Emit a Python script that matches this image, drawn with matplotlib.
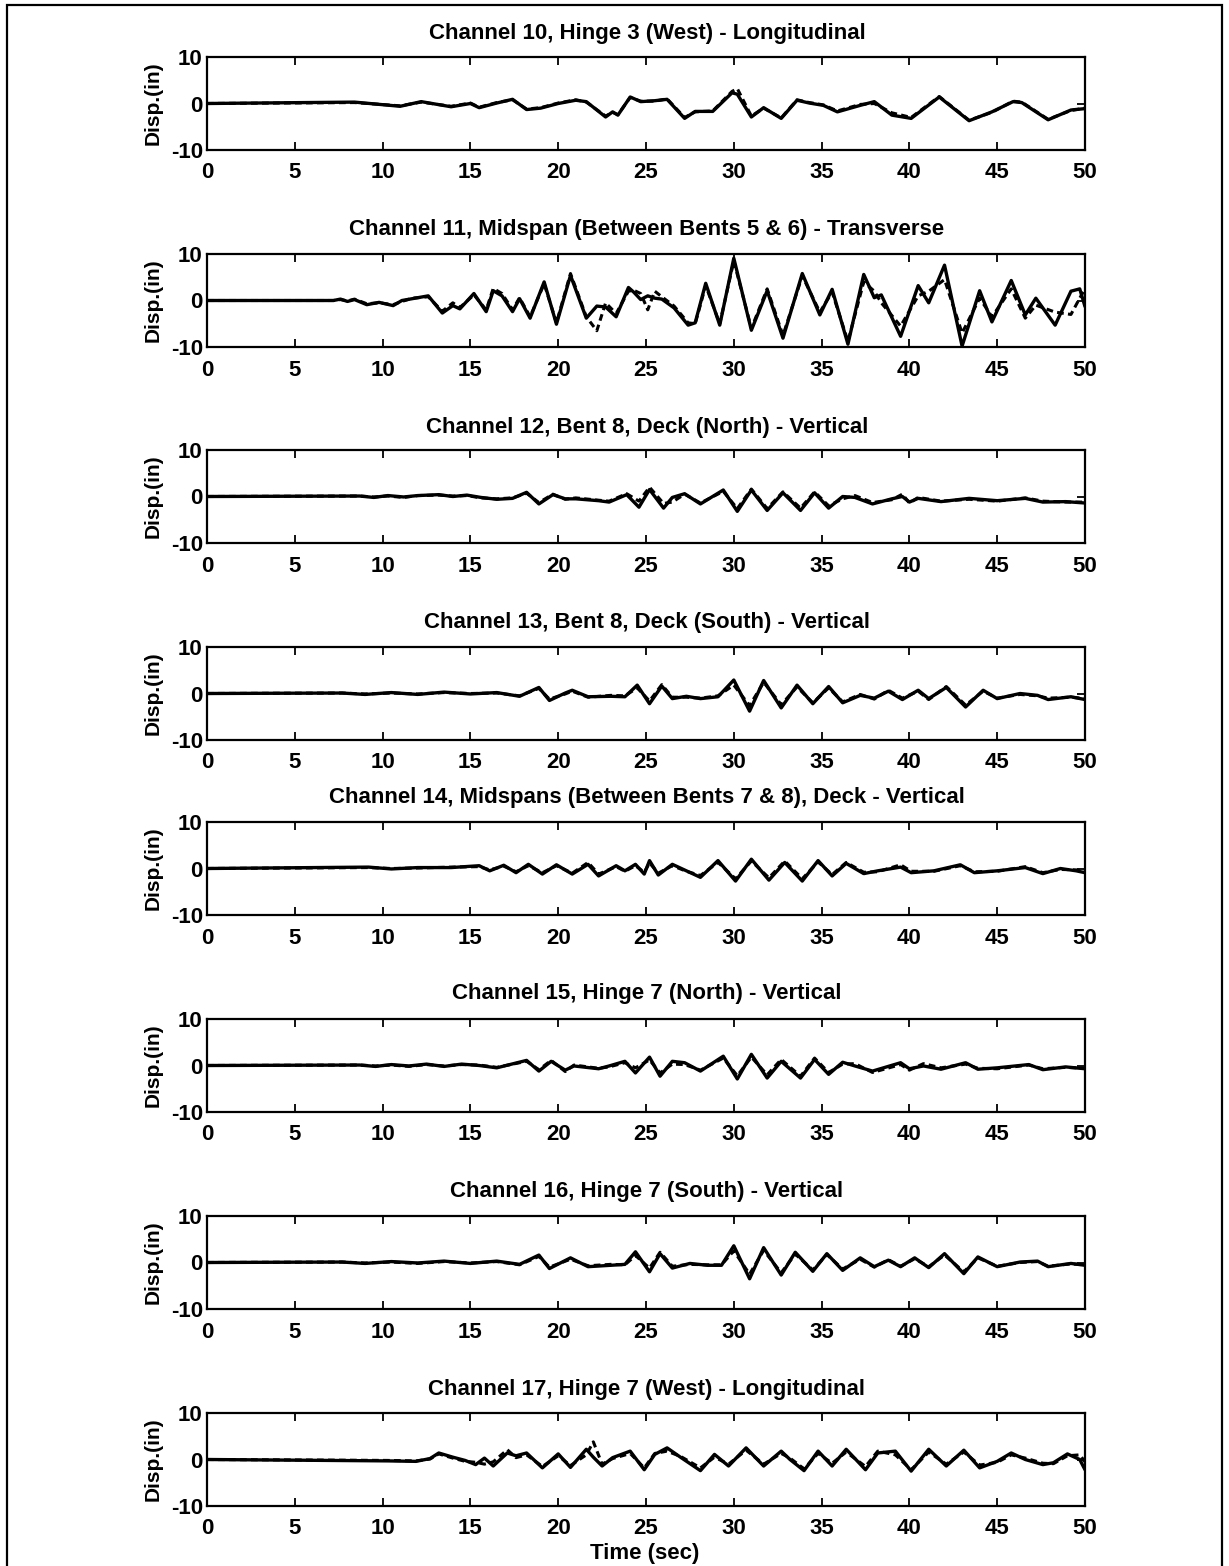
import matplotlib
matplotlib.use("Agg")
import matplotlib.pyplot as plt
from matplotlib.patches import Rectangle

plt.rcParams['font.family'] = ['Liberation Sans', 'DejaVu Sans']
plt.rcParams['font.weight'] = 'bold'

# ---------------------------------------------------------------- data
titles = [
    "Channel 10, Hinge 3 (West) - Longitudinal",
    "Channel 11, Midspan (Between Bents 5 & 6) - Transverse",
    "Channel 12, Bent 8, Deck (North) - Vertical",
    "Channel 13, Bent 8, Deck (South) - Vertical",
    "Channel 14, Midspans (Between Bents 7 & 8), Deck - Vertical",
    "Channel 15, Hinge 7 (North) - Vertical",
    "Channel 16, Hinge 7 (South) - Vertical",
    "Channel 17, Hinge 7 (West) - Longitudinal",
]
x_ticks = [0, 5, 10, 15, 20, 25, 30, 35, 40, 45, 50]
y_ticks = [-10, 0, 10]

# Channel 10
t_ch10 = [0, 8.4, 11, 12.2, 13.9, 15, 15.5, 16.5, 17.4, 18.2, 19, 20, 21, 21.6, 22.7, 23.1, 23.4,
          24.1, 24.7, 25.5, 26.2, 27.2, 27.8, 28.8, 29.9, 30.2, 31, 31.7, 32.7, 33.6, 34.3, 35.1,
          35.9, 37.2, 38, 39, 40.1, 41.7, 43.4, 44.7, 45.9, 46.4, 47.9, 49.2, 50]
rec_ch10 = [0, 0.3, -0.6, 0.4, -0.7, 0, -0.9, 0.1, 0.9, -1.3, -1.0, 0, 0.7, 0.4, -2.9, -1.8, -2.5,
            1.4, 0.4, 0.6, 0.9, -3.2, -1.7, -1.7, 2.3, 2.0, -2.9, -0.9, -3.2, 0.7, 0.1, -0.4,
            -1.8, -0.4, 0.4, -2.5, -3.2, 1.4, -3.7, -1.8, 0.4, 0.2, -3.5, -1.4, -1.1]
cmp_ch10 = [0, 0.2, -0.5, 0.3, -0.6, 0.1, -0.8, 0.2, 0.8, -1.2, -0.9, 0.1, 0.8, 0.3, -2.7, -1.9, -2.4,
            1.3, 0.5, 0.5, 1.0, -3.0, -1.8, -1.6, 2.6, 3.2, -2.7, -1.0, -3.1, 0.8, 0.2, -0.3,
            -1.6, -0.2, 0.0, -2.0, -3.0, 1.5, -3.6, -1.9, 0.5, 0.3, -3.4, -1.5, -1.0]

# Channel 11
t_ch11 = [0, 7.2, 7.6, 8.0, 8.4, 9.1, 9.8, 10.6, 11.1, 11.7, 12.6, 13.4, 14.0, 14.4, 15.2, 15.9,
          16.3, 16.8, 17.4, 17.8, 18.4, 19.2, 19.9, 20.7, 21.6, 22.2, 22.7, 23.3, 24.0, 24.3, 24.7,
          25.1, 25.5, 25.9, 26.6, 27.4, 27.8, 28.4, 29.2, 30.0, 31.0, 31.9, 32.8, 33.9, 34.9, 35.6,
          36.5, 37.4, 38.0, 38.4, 39.5, 40.5, 41.1, 42.0, 43.0, 44.0, 44.7, 45.8, 46.6, 47.2, 48.3,
          49.2, 49.7, 50]
rec_ch11 = [0, 0, 0.3, -0.2, 0.2, -0.9, -0.4, -1.1, 0, 0.4, 1.0, -2.7, -1.1, -1.8, 1.5, -2.4,
            2.1, 1.0, -2.4, 0.4, -3.8, 4.0, -5.1, 5.4, -3.8, -1.2, -1.4, -3.5, 2.8, 1.8, 0.2,
            1.0, 0.5, 0.3, -1.6, -5.3, -4.8, 3.7, -5.3, 9.1, -6.4, 2.1, -8.1, 5.8, -3.1, 2.4,
            -9.4, 5.6, 0.6, 1.2, -7.7, 3.2, -0.5, 7.6, -9.8, 2.1, -4.6, 4.3, -3.1, 0.5, -5.3,
            2.0, 2.5, -1.3]
cmp_ch11 = [0, 0, 0.2, -0.1, 0.3, -0.7, -0.5, -0.9, -0.2, 0.5, 0.8, -2.3, -0.5, -1.5, 1.2, -2.0,
            2.6, 1.5, -2.0, 0.6, -3.5, 3.6, -4.8, 5.8, -3.5, -6.5, -0.5, -2.8, 2.0, 2.2, 1.5,
            -2.0, 2.0, 0.8, -1.2, -4.8, -5.0, 3.2, -5.0, 8.5, -6.0, 2.5, -7.5, 5.3, -2.5, 1.8,
            -8.8, 4.0, 2.0, -0.5, -5.5, 1.0, 2.0, 4.5, -7.0, 0.5, -3.5, 2.5, -3.8, -1.0, -2.5,
            -3.0, 0.5, 2.5]

# Channel 12
t_ch12 = [0, 8.7, 9.5, 10.3, 11.2, 12.0, 13.2, 14.0, 14.8, 15.6, 16.5, 17.4, 18.2, 18.9, 19.7,
          20.4, 21.0, 22.3, 22.9, 23.9, 24.6, 25.2, 26.0, 26.5, 27.2, 28.1, 29.4, 30.2, 31.0,
          31.9, 32.8, 33.8, 34.6, 35.4, 36.2, 36.9, 37.9, 39.0, 39.6, 40.0, 40.5, 41.8, 43.4,
          45.0, 46.6, 47.6, 48.9, 50]
rec_ch12 = [0, 0.1, -0.2, 0.2, -0.1, 0.2, 0.4, 0, 0.3, -0.2, -0.6, -0.4, 0.9, -1.6, 0.4,
            -0.5, -0.5, -0.9, -1.2, 0.4, -2.3, 1.5, -2.5, -0.2, 0.6, -1.6, 1.4, -3.2, 1.4,
            -3.0, 0.8, -3.0, 0.8, -2.5, 0, -0.2, -1.6, -0.5, 0, -1.2, -0.4, -1.1, -0.4,
            -0.9, -0.4, -1.2, -1.1, -1.4]
cmp_ch12 = [0, 0.1, -0.1, 0.1, -0.2, 0.2, 0.3, 0.1, 0.2, -0.3, -0.5, -0.3, 0.7, -1.3, 0.5,
            -0.6, -0.3, -0.8, -1.0, 0.6, -1.0, 2.0, -1.5, -1.2, 0.5, -1.4, 1.1, -2.6, 1.6,
            -2.6, 1.0, -2.5, 1.0, -2.0, -0.5, 0.2, -1.3, -0.7, 0.5, -1.4, -0.2, -1.0, -0.6,
            -1.0, -0.3, -1.0, -1.2, -1.2]

# Channel 13
t_ch13 = [0, 7.7, 9.0, 10.5, 12.0, 13.5, 15.0, 16.5, 17.8, 18.9, 19.5, 20.4, 20.8, 21.7, 23.0,
          23.8, 24.5, 25.2, 25.9, 26.5, 27.3, 28.1, 29.1, 30.0, 30.9, 31.7, 32.7, 33.6, 34.5,
          35.4, 36.2, 37.2, 38.0, 38.8, 39.6, 40.5, 41.1, 42.1, 43.2, 44.2, 45.0, 46.3, 47.3,
          47.9, 49.2, 50]
rec_ch13 = [0, 0.1, -0.2, 0.2, -0.2, 0.3, -0.1, 0.2, -0.6, 1.3, -1.5, 0.1, 0.7, -0.7, -0.6,
            -0.7, 1.8, -2.2, 1.6, -1.1, -0.6, -1.1, -0.7, 2.9, -3.8, 2.8, -3.1, 1.8, -2.2,
            1.5, -2.0, -0.4, -1.0, 0.5, -1.3, 0.7, -1.1, 1.3, -2.9, 0.7, -1.1, 0, -0.4,
            -1.3, -0.7, -1.3]
cmp_ch13 = [0, 0.1, -0.1, 0.1, -0.1, 0.2, 0, 0.1, -0.5, 1.1, -1.2, -0.1, 0.5, -0.8, -0.4,
            -0.5, 1.2, -1.6, 1.9, -0.8, -0.8, -1.0, -0.5, 1.8, -2.6, 2.4, -2.4, 1.4, -2.0,
            1.2, -1.8, -0.2, -1.2, 0.7, -1.0, 0.5, -1.3, 1.5, -2.5, 0.5, -1.0, -0.2, -0.5,
            -1.0, -0.8, -1.1]

# Channel 14
t_ch14 = [0, 9.2, 10.5, 12.0, 13.9, 15.5, 16.1, 16.9, 17.6, 18.3, 19.1, 19.9, 20.8, 21.7, 22.3,
          23.3, 23.8, 24.4, 24.9, 25.2, 25.7, 26.5, 27.3, 28.1, 29.1, 30.1, 31.0, 32.0, 32.9,
          33.9, 34.8, 35.6, 36.4, 37.4, 38.2, 39.5, 40.1, 41.4, 42.9, 43.7, 45.0, 46.6, 47.6,
          48.6, 49.5, 50]
rec_ch14 = [0, 0.3, -0.1, 0.2, 0.2, 0.6, -0.5, 0.7, -0.9, 0.9, -1.2, 0.8, -1.2, 0.9, -1.6,
            0.6, -0.5, 0.9, -1.2, 1.7, -1.4, 0.9, -0.5, -1.9, 1.7, -2.7, 2.0, -2.5, 1.3,
            -2.7, 1.7, -1.6, 1.1, -1.1, -0.5, 0.3, -0.9, -0.5, 0.8, -0.9, -0.5, 0.2, -1.1,
            0, -0.5, -0.9]
cmp_ch14 = [0, 0.2, 0, 0.1, 0.3, 0.4, -0.3, 0.5, -0.7, 0.6, -0.9, 0.6, -1.0, 1.3, -1.2,
            0.4, -0.6, 0.6, -0.8, 1.2, -1.0, 0.6, -0.6, -1.5, 1.3, -2.2, 1.6, -2.0, 1.6,
            -2.2, 1.4, -1.3, 1.3, -0.8, -0.7, 0.8, -0.6, -0.6, 0.6, -0.7, -0.6, 0.4, -0.9,
            -0.2, -0.3, -0.6]

# Channel 15
t_ch15 = [0, 8.7, 9.6, 10.5, 11.5, 12.5, 13.5, 14.5, 15.5, 16.5, 18.2, 18.9, 19.6, 20.4, 20.9,
          22.3, 22.9, 23.8, 24.4, 25.2, 25.8, 26.5, 27.2, 28.1, 29.4, 30.2, 31.0, 31.9, 32.7,
          33.8, 34.6, 35.4, 36.2, 36.9, 37.9, 39.5, 40.0, 40.8, 41.8, 43.2, 43.9, 45.0, 46.8,
          47.6, 48.9, 50]
rec_ch15 = [0, 0.1, -0.2, 0.2, -0.1, 0.3, -0.2, 0.3, 0, -0.5, 1.1, -1.2, 0.9, -1.0, -0.1,
            -0.7, -0.1, 0.9, -1.6, 1.8, -2.3, 0.9, 0.6, -1.2, 2.0, -2.9, 2.4, -2.7, 0.9,
            -2.7, 1.3, -1.9, 0.7, -0.1, -1.2, 0.6, -0.7, -0.1, -0.8, 0.6, -0.8, -0.5, 0.2,
            -0.9, -0.3, -0.7]
cmp_ch15 = [0, 0.1, -0.1, 0.1, -0.2, 0.2, -0.1, 0.2, 0.1, -0.4, 0.9, -0.9, 1.1, -1.3, 0.1,
            -0.6, -0.3, 0.6, -0.5, 1.2, -1.6, 0.3, 0.2, -1.0, 1.6, -2.2, 1.8, -2.0, 1.3,
            -2.3, 1.6, -1.5, 0.3, 0.4, -1.5, 0.2, -1.0, 0.4, -0.5, 0.3, -0.6, -0.7, 0.1,
            -0.7, -0.4, -0.6]

# Channel 16
t_ch16 = [0, 7.7, 9.0, 10.5, 12.0, 13.5, 15.0, 16.5, 17.8, 18.9, 19.5, 20.7, 21.7, 23.0, 23.8,
          24.4, 25.2, 25.8, 26.5, 27.5, 28.5, 29.3, 30.0, 30.9, 31.7, 32.7, 33.5, 34.5, 35.3,
          36.2, 37.2, 38.0, 38.8, 39.5, 40.3, 41.1, 42.0, 43.1, 43.9, 45.0, 46.3, 47.3, 47.9,
          49.2, 50]
rec_ch16 = [0, 0.1, -0.2, 0.2, -0.1, 0.3, -0.2, 0.3, -0.4, 1.6, -1.3, 1.0, -0.9, -0.6, -0.4,
            2.3, -2.0, 1.9, -1.2, -0.2, -0.6, -0.6, 3.6, -3.5, 3.2, -2.7, 2.2, -1.9, 1.9,
            -1.7, 1.0, -0.9, 0.5, -0.9, 1.0, -1.1, 1.9, -2.4, 1.2, -0.9, 0.1, 0.3, -0.9,
            -0.2, -0.6]
cmp_ch16 = [0, 0.1, -0.1, 0.1, -0.2, 0.2, -0.1, 0.2, -0.5, 1.3, -1.0, 0.7, -0.7, -0.4, -0.5,
            1.5, -1.2, 2.2, -0.8, -0.4, -0.5, -0.5, 2.5, -2.5, 2.6, -2.2, 1.8, -1.6, 1.7,
            -1.4, 0.7, -1.0, 0.6, -0.8, 0.8, -0.9, 1.6, -2.0, 1.0, -0.8, 0, 0.2, -0.8,
            -0.3, -0.5]

# Channel 17
t_ch17 = [0, 10.3, 11.9, 12.7, 13.2, 14.0, 14.7, 15.3, 15.8, 16.3, 17.1, 17.6, 18.2, 19.1, 20.0,
          20.7, 21.6, 22.0, 22.5, 23.1, 24.1, 24.9, 25.5, 26.2, 27.0, 28.1, 28.9, 29.7, 30.7,
          31.7, 32.7, 33.2, 34.0, 34.8, 35.6, 36.4, 37.5, 38.2, 39.2, 40.1, 41.1, 42.1, 43.1,
          44.0, 45.0, 45.8, 46.6, 47.6, 48.2, 49.0, 49.7, 50]
rec_ch17 = [0, -0.3, -0.4, 0.2, 1.4, 0.5, -0.2, -1.1, 0.3, -1.4, 1.4, 0.8, 1.4, -1.8, 1.2,
            -1.7, 2.2, 0.5, -1.4, 0.4, 1.8, -2.2, 1.1, 2.5, 0.4, -2.4, 1.1, -1.4, 2.5,
            -1.4, 1.8, 0, -2.4, 1.8, -1.4, 2.2, -2.2, 1.4, 1.8, -2.5, 2.2, -1.4, 2.0,
            -1.8, -0.4, 1.4, 0, -1.1, -0.7, 1.2, 0, -2.2]
cmp_ch17 = [0, -0.2, -0.3, 0.1, 1.2, 0.3, -0.4, -0.6, -1.0, -0.5, 2.1, 0.4, 1.0, -1.5, 0.8,
            -1.3, 1.0, 3.8, -1.0, 0.2, 1.3, -1.8, 1.3, 1.8, 0.6, -1.8, 0.5, -1.0, 2.0,
            -1.0, 1.3, 0.3, -2.0, 1.3, -0.8, 1.6, -1.5, 1.8, 1.0, -2.2, 1.6, -1.0, 1.6,
            -1.2, -0.6, 1.0, 0.3, -0.8, -0.9, 0.8, 1.0, -0.5]

series = [
    (t_ch10, rec_ch10, cmp_ch10),
    (t_ch11, rec_ch11, cmp_ch11),
    (t_ch12, rec_ch12, cmp_ch12),
    (t_ch13, rec_ch13, cmp_ch13),
    (t_ch14, rec_ch14, cmp_ch14),
    (t_ch15, rec_ch15, cmp_ch15),
    (t_ch16, rec_ch16, cmp_ch16),
    (t_ch17, rec_ch17, cmp_ch17),
]

# ---------------------------------------------------------------- layout (pixels)
W, H = 1229, 1566
ax_left, ax_right = 207, 1085
ax_tops = [57, 254, 450, 647, 822, 1019, 1216, 1413]
ax_h = 93
title_y = [33, 230, 427, 623, 798, 993, 1191, 1389]

fig = plt.figure(figsize=(W / 100, H / 100), dpi=100)
fig.patch.set_facecolor('white')

# outer frame
fig.patches.append(Rectangle((7 / W, -0.01), (1222 - 7) / W, 1.01 - 5 / H,
                             transform=fig.transFigure, fill=False,
                             edgecolor='black', linewidth=1.6))

for i, (t, rec, cmp) in enumerate(series):
    top = ax_tops[i]
    ax = fig.add_axes([ax_left / W, 1 - (top + ax_h) / H,
                       (ax_right - ax_left) / W, ax_h / H])
    ax.plot(t, rec, color='black', linewidth=2.4,
            solid_joinstyle='round', solid_capstyle='round')
    ax.plot(t, cmp, color='black', linewidth=2.2, dashes=(2.2, 1.4),
            dash_joinstyle='round')
    ax.set_xlim(0, 50)
    ax.set_ylim(-10, 10)
    ax.set_xticks(x_ticks)
    ax.set_yticks(y_ticks)
    ax.set_xticklabels([str(v) for v in x_ticks])
    ax.set_yticklabels([str(v) for v in y_ticks])
    ax.tick_params(axis='both', direction='in', length=6, width=1.3,
                   top=True, right=True, labelsize=16)
    ax.tick_params(axis='x', pad=9)
    ax.tick_params(axis='y', pad=3)
    for lab in ax.get_xticklabels() + ax.get_yticklabels():
        lab.set_fontweight('bold')
    for sp in ax.spines.values():
        sp.set_linewidth(1.6)
    ax.set_ylabel('Disp.(in)', fontsize=15, fontweight='bold')
    ax.yaxis.set_label_coords(-0.050, 0.5)
    fig.text(647 / W, 1 - title_y[i] / H, titles[i], ha='center', va='center',
             fontsize=16, fontweight='bold')

fig.text(645 / W, 1 - 1553 / H, 'Time (sec)', ha='center', va='center',
         fontsize=16, fontweight='bold')

fig.savefig('out.png', dpi=100)
